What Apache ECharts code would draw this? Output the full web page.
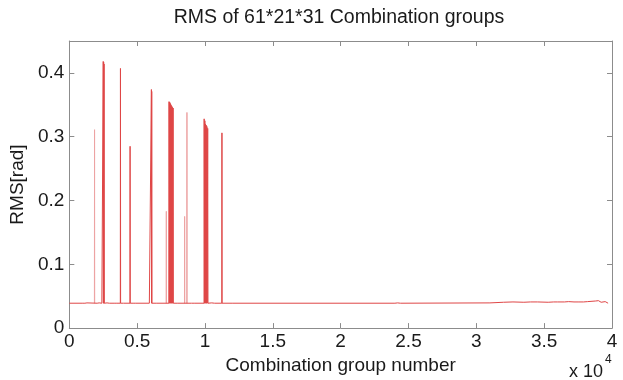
<!DOCTYPE html>
<html>
<head>
<meta charset="utf-8">
<script src="https://cdn.jsdelivr.net/npm/echarts@6/dist/echarts.min.js"></script>
<style>
html,body{margin:0;padding:0;background:#fff;}
#chart{width:623px;height:380px;}
</style>
</head>
<body>
<div id="chart"></div>
<script>
// ---- data ----
var titleText = 'RMS of 61*21*31 Combination groups';
var xName = 'Combination group number';
var yName = 'RMS[rad]';
var xTickLabels = ['0','0.5','1','1.5','2','2.5','3','3.5','4'];
var yTickLabels = ['0','0.1','0.2','0.3','0.4'];

// main (red) trace: [group number, RMS]
var mainTrace = [
  [0,0.039],[1000,0.039],[1050,0.0405],[1150,0.039],[1300,0.0395],[1400,0.039],
  [2050,0.039],[2120,0.041],[2200,0.0395],[2300,0.0405],[2400,0.039],
  [2490,0.039],[2500,0.418],[2515,0.039],[2530,0.417],[2545,0.039],[2560,0.414],[2575,0.039],
  [2700,0.0415],[2780,0.0395],[2850,0.041],[2950,0.039],
  [3300,0.039],[3350,0.0405],[3450,0.039],
  [3760,0.039],[3770,0.407],[3780,0.039],
  [3900,0.0395],[4000,0.039],
  [4470,0.039],[4480,0.285],[4490,0.039],
  [4600,0.0405],[4700,0.039],[4800,0.0405],[4900,0.039],
  [5900,0.039],[5950,0.0405],[6000,0.039],
  [6040,0.039],[6050,0.374],[6065,0.039],[6075,0.371],[6090,0.039],
  [6200,0.0395],[6400,0.039],
  [7340,0.039],[7350,0.355],[7375,0.039],[7400,0.354],[7425,0.039],[7450,0.352],[7475,0.039],[7500,0.350],[7525,0.039],
  [7550,0.348],[7575,0.039],[7600,0.346],[7625,0.039],[7650,0.345],[7665,0.039],
  [7800,0.0395],[8000,0.039],
  [9000,0.039],[9100,0.0405],[9200,0.039],
  [9930,0.039],[9940,0.328],[9965,0.039],[9990,0.325],[10015,0.039],[10040,0.320],[10065,0.039],[10090,0.318],[10115,0.039],
  [10140,0.316],[10165,0.039],[10200,0.313],[10220,0.039],
  [10500,0.0395],[10700,0.039],
  [11240,0.039],[11250,0.306],[11260,0.039],
  [12000,0.039],[24000,0.039],[24200,0.0395],[24400,0.039],
  [31000,0.0395],[31100,0.039],[32000,0.0405],[32100,0.039],[32700,0.041],[32800,0.039],[33500,0.0405],[33600,0.039],
  [34000,0.041],[34100,0.039],[34500,0.041],[34600,0.039],[35300,0.0405],[35400,0.039],[35700,0.041],[35800,0.039],
  [36000,0.041],[36100,0.039],[36500,0.041],[36600,0.039],[36800,0.0415],[36900,0.039],[37200,0.041],[37300,0.039],
  [37500,0.041],[37600,0.039],[37900,0.041],[38000,0.039],[38200,0.0415],[38300,0.039],
  [38800,0.0425],[39000,0.043],[39200,0.0405],[39500,0.0415],[39711,0.039]
];

// faint (thin) spikes
var faintTrace = [
  [1850,0.039],[1860,0.311],[1870,0.039],[1870,null],
  [7140,0.039],[7150,0.183],[7160,0.039],[7160,null],
  [8490,0.039],[8500,0.175],[8510,0.039],[8510,null],
  [8660,0.039],[8670,0.338],[8680,0.039]
];

var chart = echarts.init(document.getElementById('chart'), null, {renderer:'canvas'});
var FONT = 'Liberation Sans';
var TXT = '#1a1a1a';
var AX = '#8c8c8c';

function xFmt(v){ var i = Math.round(v/5000); return xTickLabels[i] !== undefined ? xTickLabels[i] : ''; }
function yFmt(v){ var i = Math.round(v/0.1); return yTickLabels[i] !== undefined ? yTickLabels[i] : ''; }

var option = {
  animation:false,
  backgroundColor:'#fff',
  grid:{left:68,right:11,top:41,bottom:48,containLabel:false},
  xAxis:[{
    type:'value',min:0,max:40000,interval:5000,
    name:xName,nameLocation:'middle',nameGap:22,
    nameTextStyle:{fontFamily:FONT,fontSize:19,color:TXT},
    axisLine:{show:true,lineStyle:{color:AX,width:1}},
    axisTick:{show:true,inside:true,length:5,lineStyle:{color:AX}},
    axisLabel:{margin:4,fontFamily:FONT,fontSize:19,color:TXT,formatter:xFmt},
    splitLine:{show:false}
  },{
    type:'value',min:0,max:40000,interval:5000,position:'top',
    axisLine:{show:true,onZero:false,lineStyle:{color:AX,width:1}},
    axisTick:{show:true,inside:true,length:5,lineStyle:{color:AX}},
    axisLabel:{show:false},splitLine:{show:false}
  }],
  yAxis:[{
    type:'value',min:0,max:0.45,interval:0.1,
    name:yName,nameLocation:'middle',nameGap:30,
    nameTextStyle:{fontFamily:FONT,fontSize:19,color:TXT},
    axisLine:{show:true,lineStyle:{color:AX,width:1}},
    axisTick:{show:true,inside:true,length:5,lineStyle:{color:AX}},
    axisLabel:{margin:5,fontFamily:FONT,fontSize:19,color:TXT,formatter:yFmt,showMaxLabel:false},
    splitLine:{show:false}
  },{
    type:'value',min:0,max:0.45,interval:0.1,position:'right',
    axisLine:{show:true,onZero:false,lineStyle:{color:AX,width:1}},
    axisTick:{show:true,inside:true,length:5,lineStyle:{color:AX}},
    axisLabel:{show:false},splitLine:{show:false}
  }],
  graphic:[
    {type:'text',x:339,y:8,style:{text:titleText,font:'19.5px "Liberation Sans"',fill:TXT,align:'center',verticalAlign:'top'}},
    {type:'text',x:603,y:372,style:{text:'x 10',font:'18px "Liberation Sans"',fill:TXT,align:'right',verticalAlign:'middle'}},
    {type:'text',x:605,y:360,style:{text:'4',font:'12px "Liberation Sans"',fill:TXT,align:'left',verticalAlign:'middle'}}
  ],
  series:[
    {type:'line',xAxisIndex:0,yAxisIndex:0,data:faintTrace,showSymbol:false,symbol:'none',connectNulls:false,
     lineStyle:{color:'#eda3a3',width:1},z:2,silent:true},
    {type:'line',xAxisIndex:0,yAxisIndex:0,data:mainTrace,showSymbol:false,symbol:'none',
     lineStyle:{color:'#df4646',width:1},z:3,silent:true}
  ]
};
chart.setOption(option);
</script>
</body>
</html>
